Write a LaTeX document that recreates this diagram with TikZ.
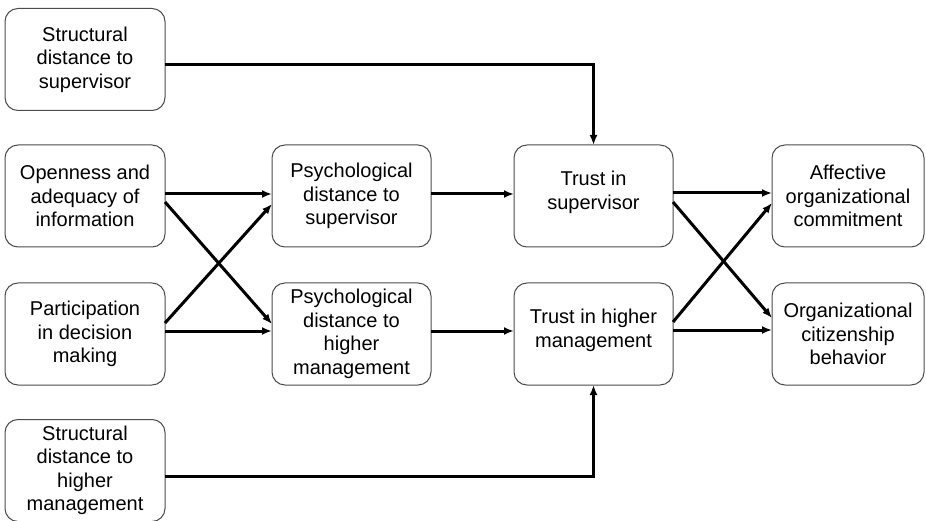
\documentclass[tikz,border=0pt]{standalone}
\usepackage{fontspec}
\setmainfont{Liberation Sans}
\usepackage{tikz}
\usetikzlibrary{arrows.meta}

\tikzset{
	block/.style={draw=black!70, line width=1pt, rounded corners=13pt, fill=white,
		minimum height=102pt, inner sep=0pt, outer sep=0pt, align=center,
		font=\fontsize{20}{23.5}\selectfont},
	flow/.style={line width=3pt, -{Latex[length=10pt,width=8pt]}}
}

\begin{document}
\begin{tikzpicture}[x=1pt, y=-1pt]
	\useasboundingbox (0,0) rectangle (926,521);

	\node[block, minimum width=160pt] (strucsup) at (85,59.5) {Structural\\distance to\\supervisor};
	\node[block, minimum width=160pt] (openness) at (85,196) {Openness and\\adequacy of\\information};
	\node[block, minimum width=160pt] (particip) at (85,334) {Participation\\in decision\\making};
	\node[block, minimum width=160pt] (struchigh) at (85,470.5) {Structural\\distance to\\higher\\management};

	\node[block, minimum width=159pt] (psychsup) at (351.5,196) {Psychological\\distance to\\supervisor};
	\node[block, minimum width=159pt] (psychhigh) at (351.5,334) {Psychological\\distance to\\higher\\management};

	\node[block, minimum width=159pt] (trustsup) at (593.5,196) {Trust in\\supervisor\\[-12.5pt]};
	\node[block, minimum width=159pt] (trusthigh) at (593.5,334) {Trust in higher\\management\\[-12.5pt]};

	\node[block, minimum width=152pt] (commit) at (848,196) {Affective\\organizational\\commitment};
	\node[block, minimum width=152pt] (citizen) at (848,334) {Organizational\\citizenship\\behavior};

	\draw[flow] ([yshift=-5.5pt]strucsup.east) -| (trustsup.north);
	\draw[flow] ([yshift=-5.5pt]struchigh.east) -| (trusthigh.south);

	\draw[flow] ([yshift=2pt]openness.east) -- ([yshift=2pt]psychsup.west);
	\draw[flow] ([yshift=-6pt]openness.east) -- ([yshift=10pt]psychhigh.west);
	\draw[flow] ([yshift=11pt]particip.east) -- ([yshift=-8pt]psychsup.west);
	\draw[flow] ([yshift=3pt]particip.east) -- ([yshift=3pt]psychhigh.west);

	\draw[flow] ([yshift=2pt]psychsup.east) -- ([yshift=2pt]trustsup.west);
	\draw[flow] ([yshift=3pt]psychhigh.east) -- ([yshift=3pt]trusthigh.west);

	\draw[flow] ([yshift=3pt]trustsup.east) -- ([yshift=3pt]commit.west);
	\draw[flow] ([yshift=-6pt]trustsup.east) -- ([yshift=16pt]citizen.west);
	\draw[flow] ([yshift=12pt]trusthigh.east) -- ([yshift=-7pt]commit.west);
	\draw[flow] ([yshift=4pt]trusthigh.east) -- ([yshift=4pt]citizen.west);
\end{tikzpicture}
\end{document}
